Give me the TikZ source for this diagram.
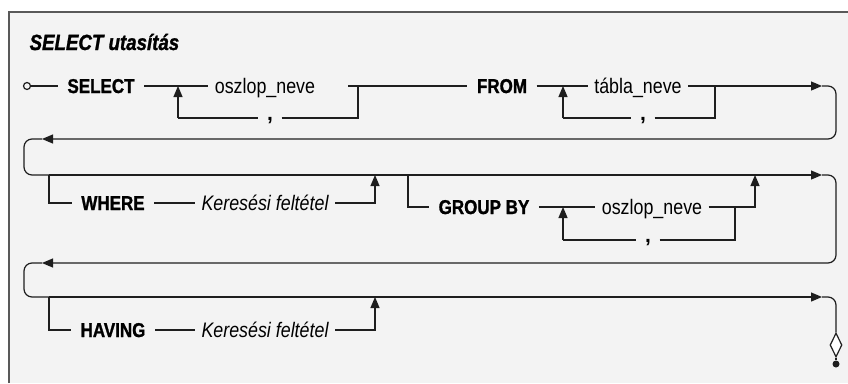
\documentclass[tikz,border=0pt]{standalone}
\usepackage{fontspec}
\setmainfont{Liberation Sans}
\newfontfamily\narrowfont{Liberation Sans}[FakeStretch=0.85, BoldFeatures={FakeBold=1.2}, BoldItalicFeatures={FakeBold=1.2}]
\usetikzlibrary{arrows.meta,shapes.geometric}
\definecolor{paper}{RGB}{243,243,243}
\definecolor{ink}{RGB}{30,30,30}

\begin{document}
\begin{tikzpicture}[x=1pt, y=-1pt, line width=1.2pt, draw=ink,
  kw/.style={font=\narrowfont\bfseries\fontsize{20}{24}\selectfont, inner xsep=9pt, inner ysep=0pt, text height=14pt, text depth=0pt},
  nm/.style={font=\narrowfont\fontsize{21}{24}\selectfont, inner xsep=6pt, inner ysep=0pt, text height=14pt, text depth=0pt},
  kf/.style={nm, font=\narrowfont\itshape\fontsize{21}{24}\selectfont},
  cma/.style={font=\bfseries\fontsize{21}{24}\selectfont, inner xsep=8pt, inner ysep=0pt, text height=4pt, text depth=0pt},
  arr/.style={-{Triangle[length=11pt,width=9pt]}},
  turn/.style={rounded corners=8pt}]
\fill[white] (0,0) rectangle (848,383);
\useasboundingbox (0,0) rectangle (848,383);
\fill[paper] (9,12) rectangle (848,383);
\draw[line width=1.4pt, gray!70!black] (9,383) -- (9,12) -- (848,12);

\node[anchor=base west, font=\narrowfont\bfseries\itshape\fontsize{22}{26}\selectfont, inner sep=0pt] (title) at (29,50) {SELECT utasítás};

% first row: SELECT ... FROM ...
\node[circle, draw, inner sep=0pt, minimum size=7pt] (start) at (27,86) {};
\node[kw] (sel) at (101,86) {SELECT};
\node[nm] (col1) at (265,86) {oszlop\_neve};
\node[kw] (from) at (502,86) {FROM};
\node[nm] (tab) at (638,86) {tábla\_neve};
\node[cma] (c1) at (270,118) {,};
\node[cma] (c2) at (643,118) {,};
\coordinate (a1) at (178,86);  \coordinate (a1b) at (178,118);
\coordinate (b1) at (358,86);  \coordinate (b1b) at (358,118);
\coordinate (b1in) at (348,86);
\coordinate (a2) at (563,86);  \coordinate (a2b) at (563,118);
\coordinate (b2) at (715,86);  \coordinate (b2b) at (715,118);
\coordinate (r1) at (822,86);  \coordinate (l1) at (42,139);

\draw (start) -- (sel.west);
\draw (sel.east) -- (col1.west);
\draw (b1in) -- (from.west);
\draw (from.east) -- (tab.west);
\draw[arr] (a1b) -- (a1);
\draw (a1b) -- (c1.west);
\draw (c1.east) -- (b1b) -- (b1);
\draw[arr] (a2b) -- (a2);
\draw (a2b) -- (c2.west);
\draw (c2.east) -- (b2b) -- (b2);
\draw[arr] (tab.east) -- (r1);
\draw[turn, arr] (r1) -- (836,86) -- (836,139) -- (l1);

% second row: WHERE and GROUP BY
\coordinate (w0) at (49,175);  \coordinate (w1) at (375,175);
\coordinate (g0) at (408,175); \coordinate (g1) at (755,175);
\coordinate (r2) at (822,175); \coordinate (l2) at (42,263);
\node[kw] (where) at (113,203) {WHERE};
\node[kf] (cond1) at (265,203) {Keresési feltétel};
\node[kw] (group) at (484,207) {GROUP BY};
\node[nm] (col2) at (652,207) {oszlop\_neve};
\node[cma] (c3) at (648,240) {,};
\coordinate (a3) at (563,207);  \coordinate (a3b) at (563,240);
\coordinate (b3) at (735,207);  \coordinate (b3b) at (735,240);

\draw[turn] (l1) -- (24,139) -- (24,175) -- (w0);
\draw[arr] (w0) -- (r2);
\draw (w0) |- (where.west);
\draw (where.east) -- (cond1.west);
\draw[arr] (cond1.east) -| (w1);
\draw (g0) |- (group.west);
\draw (group.east) -- (col2.west);
\draw[arr] (col2.east) -| (g1);
\draw[arr] (a3b) -- (a3);
\draw (a3b) -- (c3.west);
\draw (c3.east) -- (b3b) -- (b3);
\draw[turn, arr] (r2) -- (836,175) -- (836,263) -- (l2);

% third row: HAVING and the end mark
\coordinate (h0) at (49,297);  \coordinate (h1) at (375,297);
\coordinate (r3) at (822,297);
\node[kw] (having) at (113,330) {HAVING};
\node[kf] (cond2) at (265,330) {Keresési feltétel};
\node[diamond, draw, fill=white, inner sep=0pt, minimum width=12pt, minimum height=24pt] (end) at (836,345) {};
\node[circle, fill=ink, inner sep=0pt, minimum size=7pt] (stop) at (836,364) {};

\draw[turn] (l2) -- (24,263) -- (24,297) -- (h0);
\draw[arr] (h0) -- (r3);
\draw (h0) |- (having.west);
\draw (having.east) -- (cond2.west);
\draw[arr] (cond2.east) -| (h1);
\draw[turn] (r3) -- (836,297) -- (end.north);
\draw (end.south) -- (stop);
\end{tikzpicture}
\end{document}
